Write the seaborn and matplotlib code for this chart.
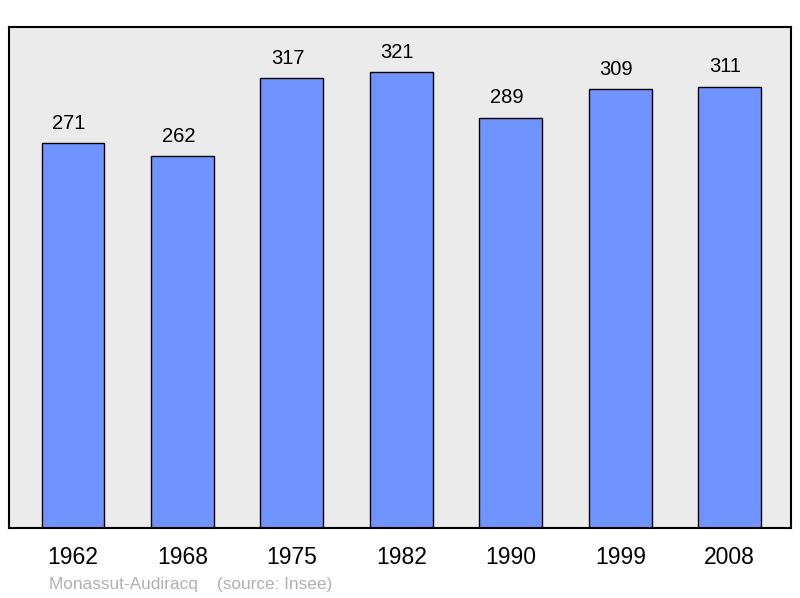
import matplotlib
matplotlib.use("Agg")
import matplotlib.pyplot as plt
import seaborn as sns
import pandas as pd

years = ["1962", "1968", "1975", "1982", "1990", "1999", "2008"]
population = [271, 262, 317, 321, 289, 309, 311]
commune = "Monassut-Audiracq"
source = "(source: Insee)"

sns.set_style("white")
plt.rcParams['font.family'] = ['Liberation Sans', 'DejaVu Sans']

df = pd.DataFrame({"year": years, "pop": population})

fig = plt.figure(figsize=(8, 5.98), dpi=100)
ax = fig.add_axes([9/800, 70/598, 782/800, 501/598])
ax.set_facecolor("#ebebeb")

sns.barplot(data=df, x="year", y="pop", ax=ax, color="#7094ff", saturation=1,
            width=0.575, edgecolor="black", linewidth=1.0)

for i, v in enumerate(population):
    ax.annotate(str(v), (i, v), xytext=(-3, 7.5), textcoords="offset points",
                ha="center", va="bottom", fontsize=14.5, color="black")

ax.set_xlim(-0.585, 6.56)
ax.set_ylim(0, 353)
ax.set_yticks([])
ax.set_xlabel("")
ax.set_ylabel("")
ax.tick_params(axis="x", length=0, labelsize=16.5, pad=13, colors="black")
for s in ax.spines.values():
    s.set_visible(True)
    s.set_color("black")
    s.set_linewidth(1.5)

fig.text(49/800, 1 - 584/598, commune + "    " + source, fontsize=12.4,
         color="#b0b0b0", ha="left", va="center")

fig.savefig("out.png", dpi=100)
